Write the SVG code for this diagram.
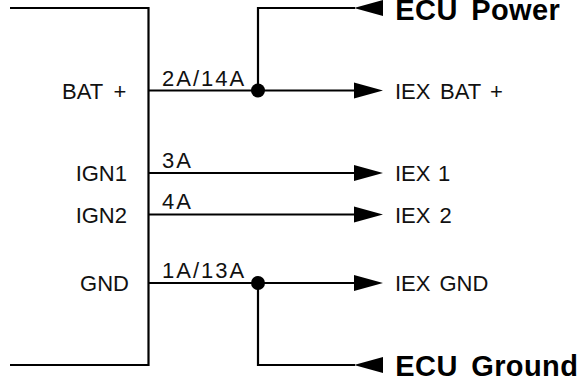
<svg xmlns="http://www.w3.org/2000/svg" width="581" height="381" viewBox="0 0 581 381">
<style>
.w{fill:none;stroke:#000;stroke-width:2.2}
.a{fill:#000;stroke:none}
text{font-family:"Liberation Sans",Arial,sans-serif;font-size:22px;fill:#111}
.b{font-weight:bold;font-size:29px;fill:#000;letter-spacing:.4px;word-spacing:5px}
.e{text-anchor:end}
.s{letter-spacing:2px}
</style>
<defs>
<polygon id="r" class="a" points="0,-8 29,0 0,8"/>
<polygon id="l" class="a" points="0,0 29,-8 29,8"/>
</defs>
<rect width="581" height="381" fill="#fff"/>
<g id="connectors">
<path class="w" d="M10 8H148.5V365H10"/>
<path class="w" d="M148.5 90.5H355"/>
<path class="w" d="M148.5 173H355"/>
<path class="w" d="M148.5 214.5H355"/>
<path class="w" d="M148.5 283H355"/>
<path class="w" d="M258 90.5V8H355"/>
<path class="w" d="M258 283V365H355"/>
<use href="#r" x="354" y="90.5"/>
<use href="#r" x="354" y="173"/>
<use href="#r" x="354" y="214.5"/>
<use href="#r" x="354" y="283"/>
<use href="#l" x="354" y="8"/>
<use href="#l" x="354" y="365"/>
<circle class="a" cx="258" cy="90.5" r="7"/>
<circle class="a" cx="258" cy="283" r="7"/>
</g>
<g id="pin-bat"><text x="62" y="99">BAT<tspan x="113.5">+</tspan></text></g>
<g id="pin-ign1"><text class="e" x="127" y="181">IGN1</text></g>
<g id="pin-ign2"><text class="e" x="127" y="223">IGN2</text></g>
<g id="pin-gnd"><text class="e" x="129" y="291">GND</text></g>
<g id="wire-2a"><text class="s" x="162" y="86">2A/14A</text></g>
<g id="wire-3a"><text class="s" x="162" y="168">3A</text></g>
<g id="wire-4a"><text class="s" x="162" y="209">4A</text></g>
<g id="wire-1a"><text class="s" x="162" y="278">1A/13A</text></g>
<g id="ecu-power"><text class="b" x="395.3" y="19.5">ECU Power</text></g>
<g id="iex-bat"><text x="395" y="99">IEX<tspan x="440">BAT</tspan><tspan x="490">+</tspan></text></g>
<g id="iex-1"><text x="395" y="181">IEX<tspan x="438">1</tspan></text></g>
<g id="iex-2"><text x="395" y="223">IEX<tspan x="439.5">2</tspan></text></g>
<g id="iex-gnd"><text x="395" y="291">IEX<tspan x="439.5">GND</tspan></text></g>
<g id="ecu-ground"><text class="b" x="395.3" y="376">ECU Ground</text></g>
</svg>
